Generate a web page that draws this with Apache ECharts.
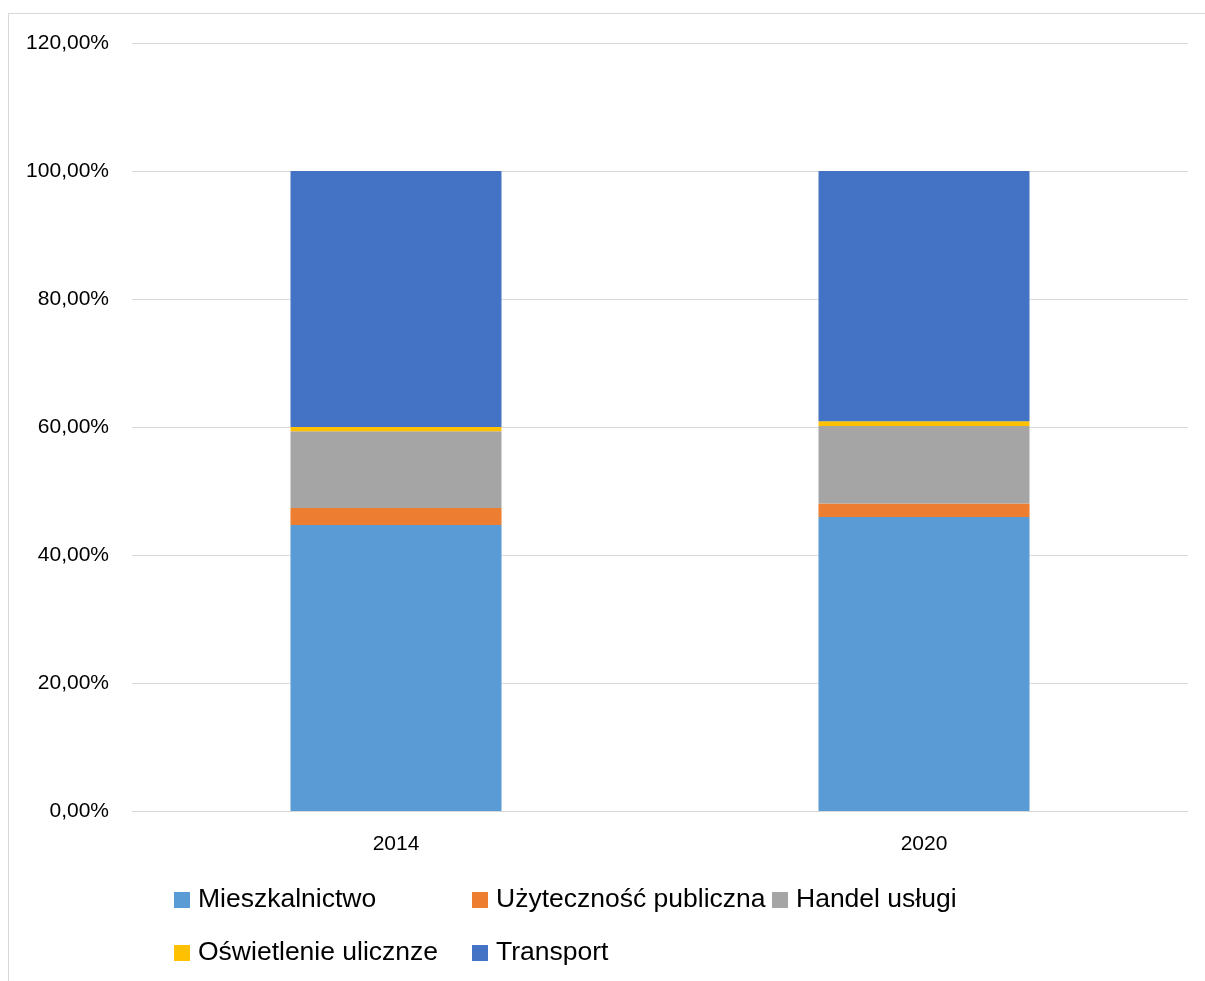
<!DOCTYPE html>
<html>
<head>
<meta charset="utf-8">
<script src="https://cdn.jsdelivr.net/npm/echarts@6/dist/echarts.min.js"></script>
<style>
  html, body { margin: 0; padding: 0; background: #fff; }
  #frame { position: absolute; left: 8px; top: 13px; width: 1300px; height: 1100px;
    border-left: 1px solid #d9d9d9; border-top: 1px solid #d9d9d9; }
  #main { position: absolute; left: 0; top: 0; width: 1205px; height: 981px; }
</style>
</head>
<body>
<div id="frame"></div>
<div id="main"></div>
<script>
// lata
var years = ['2014', '2020']
// udział sektorów (%)
var mieszkalnictwo = [44.70, 45.94]
var uzytecznosc = [2.65, 2.11]
var handel = [11.98, 12.11]
var oswietlenie = [0.67, 0.73]
var transport = [40.00, 39.11]
var yTicks = [0, 20, 40, 60, 80, 100, 120]

var names = ['Mieszkalnictwo', 'Użyteczność publiczna', 'Handel usługi', 'Oświetlenie ulicznze', 'Transport']
var colors = ['#5B9BD5', '#ED7D31', '#A5A5A5', '#FFC000', '#4472C4']
var values = [mieszkalnictwo, uzytecznosc, handel, oswietlenie, transport]
var font = 'Liberation Sans'

// pozycje legendy (jak w Excelu – kolumny)
var legendPos = [[174, 885], [472, 885], [772, 885], [174, 938], [472, 938]]

var chart = echarts.init(document.getElementById('main'))
chart.setOption({
  animation: false,
  textStyle: { fontFamily: font },
  grid: { left: 132, right: 17, top: 43, bottom: 170 },
  legend: names.map(function (n, i) {
    return {
      data: [n],
      left: legendPos[i][0],
      top: legendPos[i][1],
      icon: 'rect',
      itemWidth: 16,
      itemHeight: 16,
      padding: 0,
      textStyle: { fontSize: 26.5, color: '#000', lineHeight: 30, padding: [0, 0, 0, 3], fontFamily: font }
    }
  }),
  xAxis: {
    type: 'category',
    data: years,
    axisLine: { lineStyle: { color: '#d9d9d9', width: 1 } },
    axisTick: { show: false },
    axisLabel: { fontSize: 21, color: '#000', margin: 23 }
  },
  yAxis: {
    type: 'value',
    min: yTicks[0],
    max: yTicks[yTicks.length - 1],
    interval: 20,
    axisLine: { show: false },
    axisTick: { show: false },
    splitLine: { lineStyle: { color: '#d9d9d9', width: 1 } },
    axisLabel: {
      fontSize: 21, color: '#000', margin: 23,
      formatter: function (v) { return v + ',00%' }
    }
  },
  series: names.map(function (n, i) {
    return {
      name: n,
      type: 'bar',
      stack: 'total',
      barWidth: 211,
      itemStyle: { color: colors[i] },
      data: values[i]
    }
  })
})
</script>
</body>
</html>
